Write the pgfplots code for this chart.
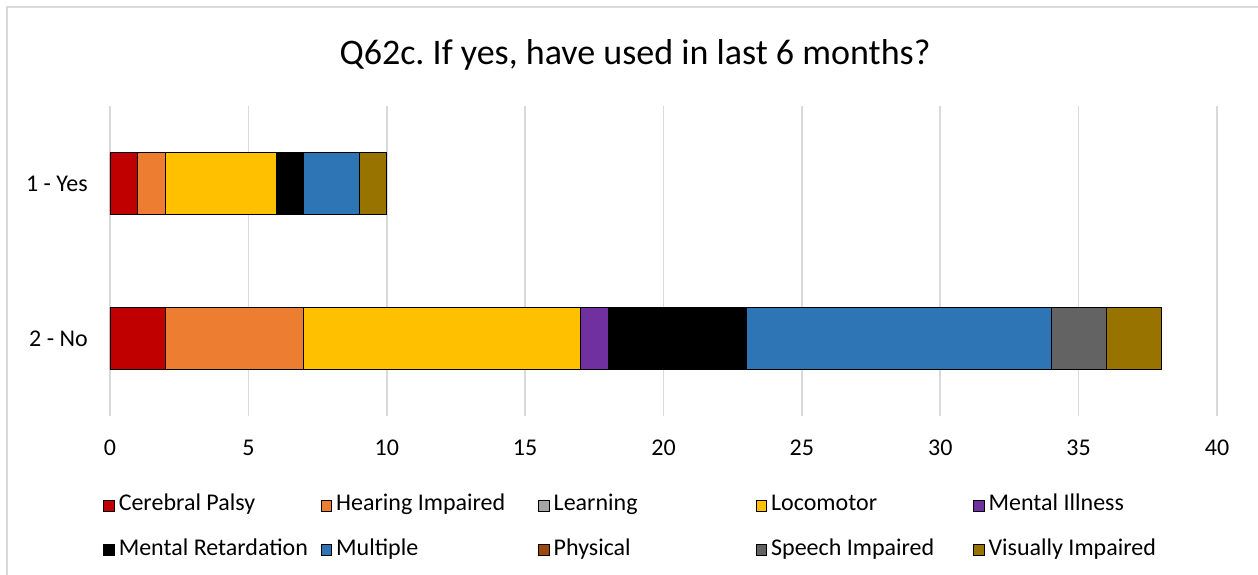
\documentclass[border=0pt]{standalone}
\usepackage{fontspec}
\setmainfont{Carlito}
\usepackage{pgfplots}
\pgfplotsset{compat=1.18}
\frenchspacing
\definecolor{cCP}{HTML}{C00000}
\definecolor{cHI}{HTML}{ED7D31}
\definecolor{cLE}{HTML}{A5A5A5}
\definecolor{cLO}{HTML}{FFC000}
\definecolor{cMI}{HTML}{7030A0}
\definecolor{cMR}{HTML}{000000}
\definecolor{cMU}{HTML}{2E75B6}
\definecolor{cPH}{HTML}{9E480E}
\definecolor{cSP}{HTML}{636363}
\definecolor{cVI}{HTML}{997300}
\definecolor{gridgray}{HTML}{D9D9D9}
\pgfplotsset{legbox/.style={legend image code/.code={\draw[##1,draw=black,line width=0.6pt] (0pt,-4pt) rectangle (8pt,4pt);\path (9.5pt,0pt);}}}
\newcommand{\lt}[1]{\makebox[150pt][l]{#1}}
\begin{document}
\begin{tikzpicture}[x=1pt,y=1pt]
\useasboundingbox (0,0) rectangle (943.5,431.25);
\draw[gridgray, line width=1.5pt] (5.25,0) -- (5.25,426) -- (944,426);
\node[font=\fontsize{27}{32}\selectfont] at (476.25,390) {Q62c. If yes, have used in last 6 months?};
\begin{axis}[
  at={(82.5pt,119.25pt)}, anchor=south west,
  scale only axis, width=830.25pt, height=232.5pt,
  xbar stacked, bar width=0.4,
  xmin=0, xmax=40, ymin=-0.5, ymax=1.5,
  xtick={0,5,...,40}, ytick={0,1}, yticklabels={2 - No, 1 - Yes},
  xmajorgrids, grid style={gridgray, line width=1.2pt},
  axis line style={draw=none}, major tick length=0pt,
  tick label style={font=\fontsize{18}{21}\selectfont, inner sep=0pt},
  /pgf/number format/assume math mode=true,
  xticklabel style={anchor=center, yshift=-24pt},
  yticklabel style={anchor=east, xshift=-16.5pt},
  legend columns=5,
  legend style={draw=none, fill=none, inner sep=0pt,
    at={(-0.0063,-0.2473)}, anchor=north west,
    font=\fontsize{18}{21}\selectfont,
    nodes={inner sep=1.5pt, text height=12pt, text depth=4pt},
    row sep=14.25pt},
  every axis plot/.append style={draw=black, line width=0.6pt, legbox},
]
\addplot[fill=cCP] coordinates {(2,0) (1,1)};
\addlegendentry{\lt{Cerebral Palsy}}
\addplot[fill=cHI] coordinates {(5,0) (1,1)};
\addlegendentry{\lt{Hearing Impaired}}
\addlegendimage{legbox, fill=cLE}
\addlegendentry{\lt{Learning}}
\addplot[fill=cLO] coordinates {(10,0) (4,1)};
\addlegendentry{\lt{Locomotor}}
\addplot[fill=cMI] coordinates {(1,0) (0,1)};
\addlegendentry{\lt{Mental Illness}}
\addplot[fill=cMR] coordinates {(5,0) (1,1)};
\addlegendentry{\lt{Mental Retardation}}
\addplot[fill=cMU] coordinates {(11,0) (2,1)};
\addlegendentry{\lt{Multiple}}
\addlegendimage{legbox, fill=cPH}
\addlegendentry{\lt{Physical}}
\addplot[fill=cSP] coordinates {(2,0) (0,1)};
\addlegendentry{\lt{Speech Impaired}}
\addplot[fill=cVI] coordinates {(2,0) (1,1)};
\addlegendentry{\lt{Visually Impaired}}
\end{axis}
\end{tikzpicture}
\end{document}
